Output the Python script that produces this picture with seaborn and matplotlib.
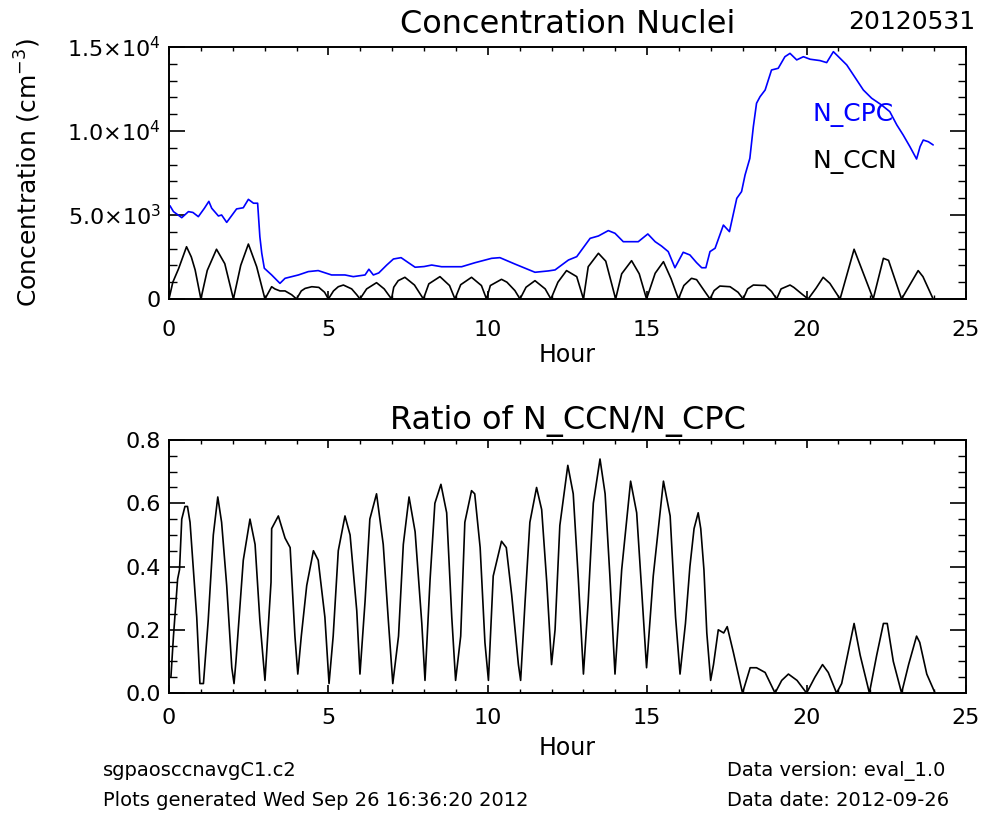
import matplotlib
matplotlib.use('Agg')
import matplotlib.pyplot as plt
from matplotlib.ticker import MultipleLocator
import seaborn as sns

# N_CPC (blue)
cpc_hour = [0.03, 0.14, 0.40, 0.61, 0.75, 0.92, 1.11, 1.25, 1.34, 1.55,
            1.65, 1.81, 2.12, 2.33, 2.49, 2.65, 2.78, 2.85, 2.91, 2.99,
            3.22, 3.48, 3.64, 4.06, 4.37, 4.68, 5.10, 5.52, 5.78, 6.15,
            6.27, 6.41, 6.58, 6.83, 7.04, 7.28, 7.51, 7.72, 8.00, 8.24,
            8.55, 9.18, 9.60, 10.12, 10.38, 10.85, 11.48, 11.90, 12.11, 12.53,
            12.79, 13.21, 13.47, 13.78, 13.99, 14.25, 14.72, 15.02, 15.25, 15.45,
            15.66, 15.87, 16.13, 16.34, 16.55, 16.71, 16.84, 16.97, 17.13, 17.39,
            17.58, 17.81, 17.96, 18.07, 18.22, 18.33, 18.43, 18.54, 18.70, 18.90,
            19.11, 19.32, 19.48, 19.69, 19.90, 20.11, 20.42, 20.63, 20.84, 21.00,
            21.26, 21.47, 21.78, 22.04, 22.35, 22.61, 22.83, 23.03, 23.24, 23.45,
            23.56, 23.66, 23.82, 23.97]
cpc_conc = [5550, 5200, 4840, 5200, 5150, 4900, 5400, 5810, 5400, 4940,
            5000, 4560, 5360, 5430, 5930, 5700, 5700, 3710, 2720, 1830,
            1430, 930, 1230, 1430, 1630, 1690, 1430, 1430, 1330, 1430,
            1770, 1430, 1550, 2020, 2380, 2460, 2160, 1890, 1930, 2020,
            1920, 1920, 2160, 2420, 2460, 2080, 1590, 1670, 1730, 2320,
            2520, 3610, 3750, 4070, 3910, 3410, 3410, 3870, 3410, 3150,
            2820, 1860, 2780, 2620, 2160, 1860, 1860, 2820, 3020, 4400,
            4010, 5990, 6390, 7380, 8370, 10260, 11650, 12040, 12440, 13630,
            13730, 14420, 14620, 14230, 14420, 14270, 14190, 14070, 14720, 14420,
            13930, 13330, 12440, 11950, 11550, 11150, 10360, 9760, 9070, 8330,
            9070, 9460, 9360, 9170]

# N_CCN (black)
ccn_hour = [0.00, 0.12, 0.30, 0.55, 0.70, 0.82, 1.00, 1.20, 1.49, 1.75,
            2.02, 2.25, 2.49, 2.75, 3.01, 3.22, 3.32, 3.48, 3.64, 3.85,
            4.00, 4.15, 4.27, 4.48, 4.70, 4.88, 5.00, 5.16, 5.31, 5.47,
            5.73, 5.89, 5.99, 6.20, 6.51, 6.75, 6.98, 7.05, 7.19, 7.40,
            7.70, 7.98, 8.15, 8.50, 8.80, 8.97, 9.15, 9.49, 9.80, 9.96,
            10.08, 10.43, 10.60, 10.85, 11.01, 11.20, 11.48, 11.80, 11.98, 12.20,
            12.47, 12.79, 13.00, 13.15, 13.47, 13.70, 14.01, 14.20, 14.51, 14.75,
            14.98, 15.25, 15.51, 15.75, 15.98, 16.15, 16.39, 16.55, 16.75, 16.97,
            17.10, 17.28, 17.60, 17.85, 18.01, 18.15, 18.33, 18.70, 18.90, 19.06,
            19.20, 19.48, 19.60, 19.85, 20.05, 20.30, 20.52, 20.73, 21.05, 21.49,
            22.09, 22.41, 22.57, 22.98, 23.50, 23.65, 23.97]
ccn_conc = [0, 1000, 1800, 3110, 2500, 1730, 0, 1700, 2960, 2100,
            0, 2000, 3270, 1920, 0, 730, 600, 480, 480, 250,
            0, 480, 630, 730, 690, 400, 0, 480, 730, 830,
            600, 250, 0, 600, 970, 600, 0, 700, 1090, 1290,
            830, 0, 900, 1330, 800, 0, 850, 1290, 800, 0,
            800, 1170, 1000, 500, 0, 700, 1090, 600, 0, 1000,
            1690, 1330, 0, 1920, 2720, 2250, 0, 1500, 2280, 1500,
            0, 1530, 2220, 1200, 0, 800, 1230, 1150, 600, 0,
            500, 770, 730, 400, 0, 600, 830, 800, 450, 0,
            600, 830, 690, 300, 0, 650, 1290, 930, 0, 2960,
            0, 2420, 2300, 0, 1690, 1330, 0]

# Ratio N_CCN/N_CPC
ratio_hour = [0.06, 0.14, 0.27, 0.33, 0.40, 0.50, 0.58, 0.66, 0.87, 0.97,
              1.08, 1.23, 1.39, 1.53, 1.65, 1.81, 1.97, 2.04, 2.10, 2.33,
              2.54, 2.70, 2.85, 3.01, 3.20, 3.22, 3.43, 3.64, 3.80, 3.95,
              4.04, 4.15, 4.32, 4.53, 4.68, 4.89, 5.02, 5.15, 5.31, 5.52,
              5.68, 5.89, 5.99, 6.15, 6.30, 6.51, 6.72, 6.88, 7.02, 7.20,
              7.35, 7.53, 7.72, 7.93, 8.03, 8.19, 8.34, 8.53, 8.71, 8.87,
              8.99, 9.15, 9.28, 9.49, 9.59, 9.76, 9.91, 10.02, 10.17, 10.43,
              10.58, 10.75, 10.96, 11.03, 11.17, 11.32, 11.53, 11.69, 11.85, 12.00,
              12.11, 12.26, 12.51, 12.68, 12.84, 13.00, 13.15, 13.31, 13.52, 13.68,
              13.83, 13.99, 14.20, 14.48, 14.67, 14.83, 14.98, 15.19, 15.51, 15.72,
              15.89, 16.03, 16.20, 16.34, 16.47, 16.60, 16.68, 16.78, 16.87, 16.99,
              17.08, 17.23, 17.40, 17.51, 17.70, 17.99, 18.23, 18.43, 18.70, 19.01,
              19.22, 19.43, 19.70, 20.00, 20.26, 20.50, 20.68, 20.94, 21.10, 21.49,
              21.68, 21.97, 22.20, 22.41, 22.53, 22.72, 22.98, 23.20, 23.45, 23.55,
              23.77, 24.03]
ratio_val = [0.05, 0.18, 0.36, 0.39, 0.55, 0.59, 0.59, 0.54, 0.24, 0.03,
             0.03, 0.23, 0.50, 0.62, 0.54, 0.34, 0.08, 0.03, 0.10, 0.42,
             0.55, 0.47, 0.23, 0.04, 0.35, 0.52, 0.56, 0.49, 0.46, 0.18,
             0.06, 0.18, 0.34, 0.45, 0.42, 0.24, 0.03, 0.18, 0.45, 0.56,
             0.50, 0.26, 0.06, 0.29, 0.55, 0.63, 0.47, 0.23, 0.03, 0.18,
             0.47, 0.62, 0.51, 0.22, 0.04, 0.36, 0.60, 0.66, 0.57, 0.24,
             0.04, 0.18, 0.54, 0.64, 0.63, 0.46, 0.16, 0.04, 0.37, 0.48,
             0.46, 0.31, 0.09, 0.04, 0.29, 0.54, 0.65, 0.58, 0.35, 0.09,
             0.20, 0.53, 0.72, 0.63, 0.36, 0.06, 0.29, 0.60, 0.74, 0.63,
             0.37, 0.06, 0.39, 0.67, 0.57, 0.32, 0.08, 0.37, 0.67, 0.56,
             0.24, 0.06, 0.22, 0.40, 0.52, 0.57, 0.52, 0.39, 0.19, 0.04,
             0.09, 0.20, 0.19, 0.21, 0.13, 0.00, 0.08, 0.08, 0.065, 0.00,
             0.04, 0.06, 0.04, 0.00, 0.05, 0.09, 0.065, 0.00, 0.03, 0.22,
             0.12, 0.00, 0.12, 0.22, 0.22, 0.10, 0.00, 0.09, 0.18, 0.16,
             0.06, 0.00]

conc_ticks = [0, 5000, 10000, 15000]
conc_labels = ['0', '5.0×10$^3$', '1.0×10$^4$', '1.5×10$^4$']
ratio_ticks = [0.0, 0.2, 0.4, 0.6, 0.8]
ratio_labels = ['0.0', '0.2', '0.4', '0.6', '0.8']
hour_ticks = [0, 5, 10, 15, 20, 25]

sns.set_style('ticks')
plt.rcParams['font.family'] = ['DejaVu Sans']
plt.rcParams['text.color'] = 'black'
plt.rcParams['axes.labelcolor'] = 'black'
plt.rcParams['axes.titlecolor'] = 'black'

fig = plt.figure(figsize=(9.86, 8.14), dpi=100)
ax1 = fig.add_axes([0.1714, 0.6327, 0.8083, 0.3096])
ax2 = fig.add_axes([0.1714, 0.1486, 0.8083, 0.3108])


def style_axis(ax, xpad):
    for s in ax.spines.values():
        s.set_linewidth(1.4)
        s.set_color('black')
    ax.tick_params(which='both', direction='in', top=True, right=True,
                   colors='black', labelsize=16)
    ax.tick_params(axis='x', which='major', length=6, width=1.2, pad=xpad)
    ax.tick_params(axis='x', which='minor', length=3, width=1.0)
    ax.tick_params(axis='y', which='major', length=11.5, width=1.2, pad=6)
    ax.tick_params(axis='y', which='minor', length=6, width=1.0)
    ax.set_xlim(0, 25)
    ax.set_xticks(hour_ticks)
    ax.xaxis.set_minor_locator(MultipleLocator(1))
    ax.set_xlabel('Hour', fontsize=17)
    ax.xaxis.label.set_va('center')


# top panel: concentrations
sns.lineplot(x=cpc_hour, y=cpc_conc, ax=ax1, color='blue', linewidth=1.2)
sns.lineplot(x=ccn_hour, y=ccn_conc, ax=ax1, color='black', linewidth=1.2)
style_axis(ax1, 15)
ax1.set_ylim(0, 15000)
ax1.set_yticks(conc_ticks)
ax1.set_yticklabels(conc_labels)
ax1.yaxis.set_minor_locator(MultipleLocator(1000))
ax1.xaxis.set_label_coords(0.5, -0.222)
ax1.set_ylabel('Concentration (cm$^{-3}$)', fontsize=18)
ax1.yaxis.label.set_va('center')
ax1.yaxis.set_label_coords(-0.177, 0.5)
ax1.set_title('Concentration Nuclei', fontsize=23, pad=10)
ax1.text(20.17, 10950, 'N_CPC', color='blue', fontsize=18, va='center')
ax1.text(20.17, 8150, 'N_CCN', color='black', fontsize=18, va='center')

# bottom panel: ratio
sns.lineplot(x=ratio_hour, y=ratio_val, ax=ax2, color='black', linewidth=1.2)
style_axis(ax2, 11)
ax2.set_ylim(0, 0.8)
ax2.set_yticks(ratio_ticks)
ax2.set_yticklabels(ratio_labels)
ax2.yaxis.set_minor_locator(MultipleLocator(0.05))
ax2.xaxis.set_label_coords(0.5, -0.217)
ax2.set_ylabel('')
ax2.set_title('Ratio of N_CCN/N_CPC', fontsize=23, pad=8)

fig.text(975 / 986, 1 - 22 / 814, '20120531', fontsize=18, ha='right', va='center')
fig.text(103 / 986, 1 - 771 / 814, 'sgpaosccnavgC1.c2', fontsize=14, va='center')
fig.text(103 / 986, 1 - 800 / 814, 'Plots generated Wed Sep 26 16:36:20 2012',
         fontsize=14, va='center')
fig.text(727 / 986, 1 - 771 / 814, 'Data version: eval_1.0', fontsize=14, va='center')
fig.text(727 / 986, 1 - 800 / 814, 'Data date: 2012-09-26', fontsize=14, va='center')

fig.savefig('out.png', dpi=100)
